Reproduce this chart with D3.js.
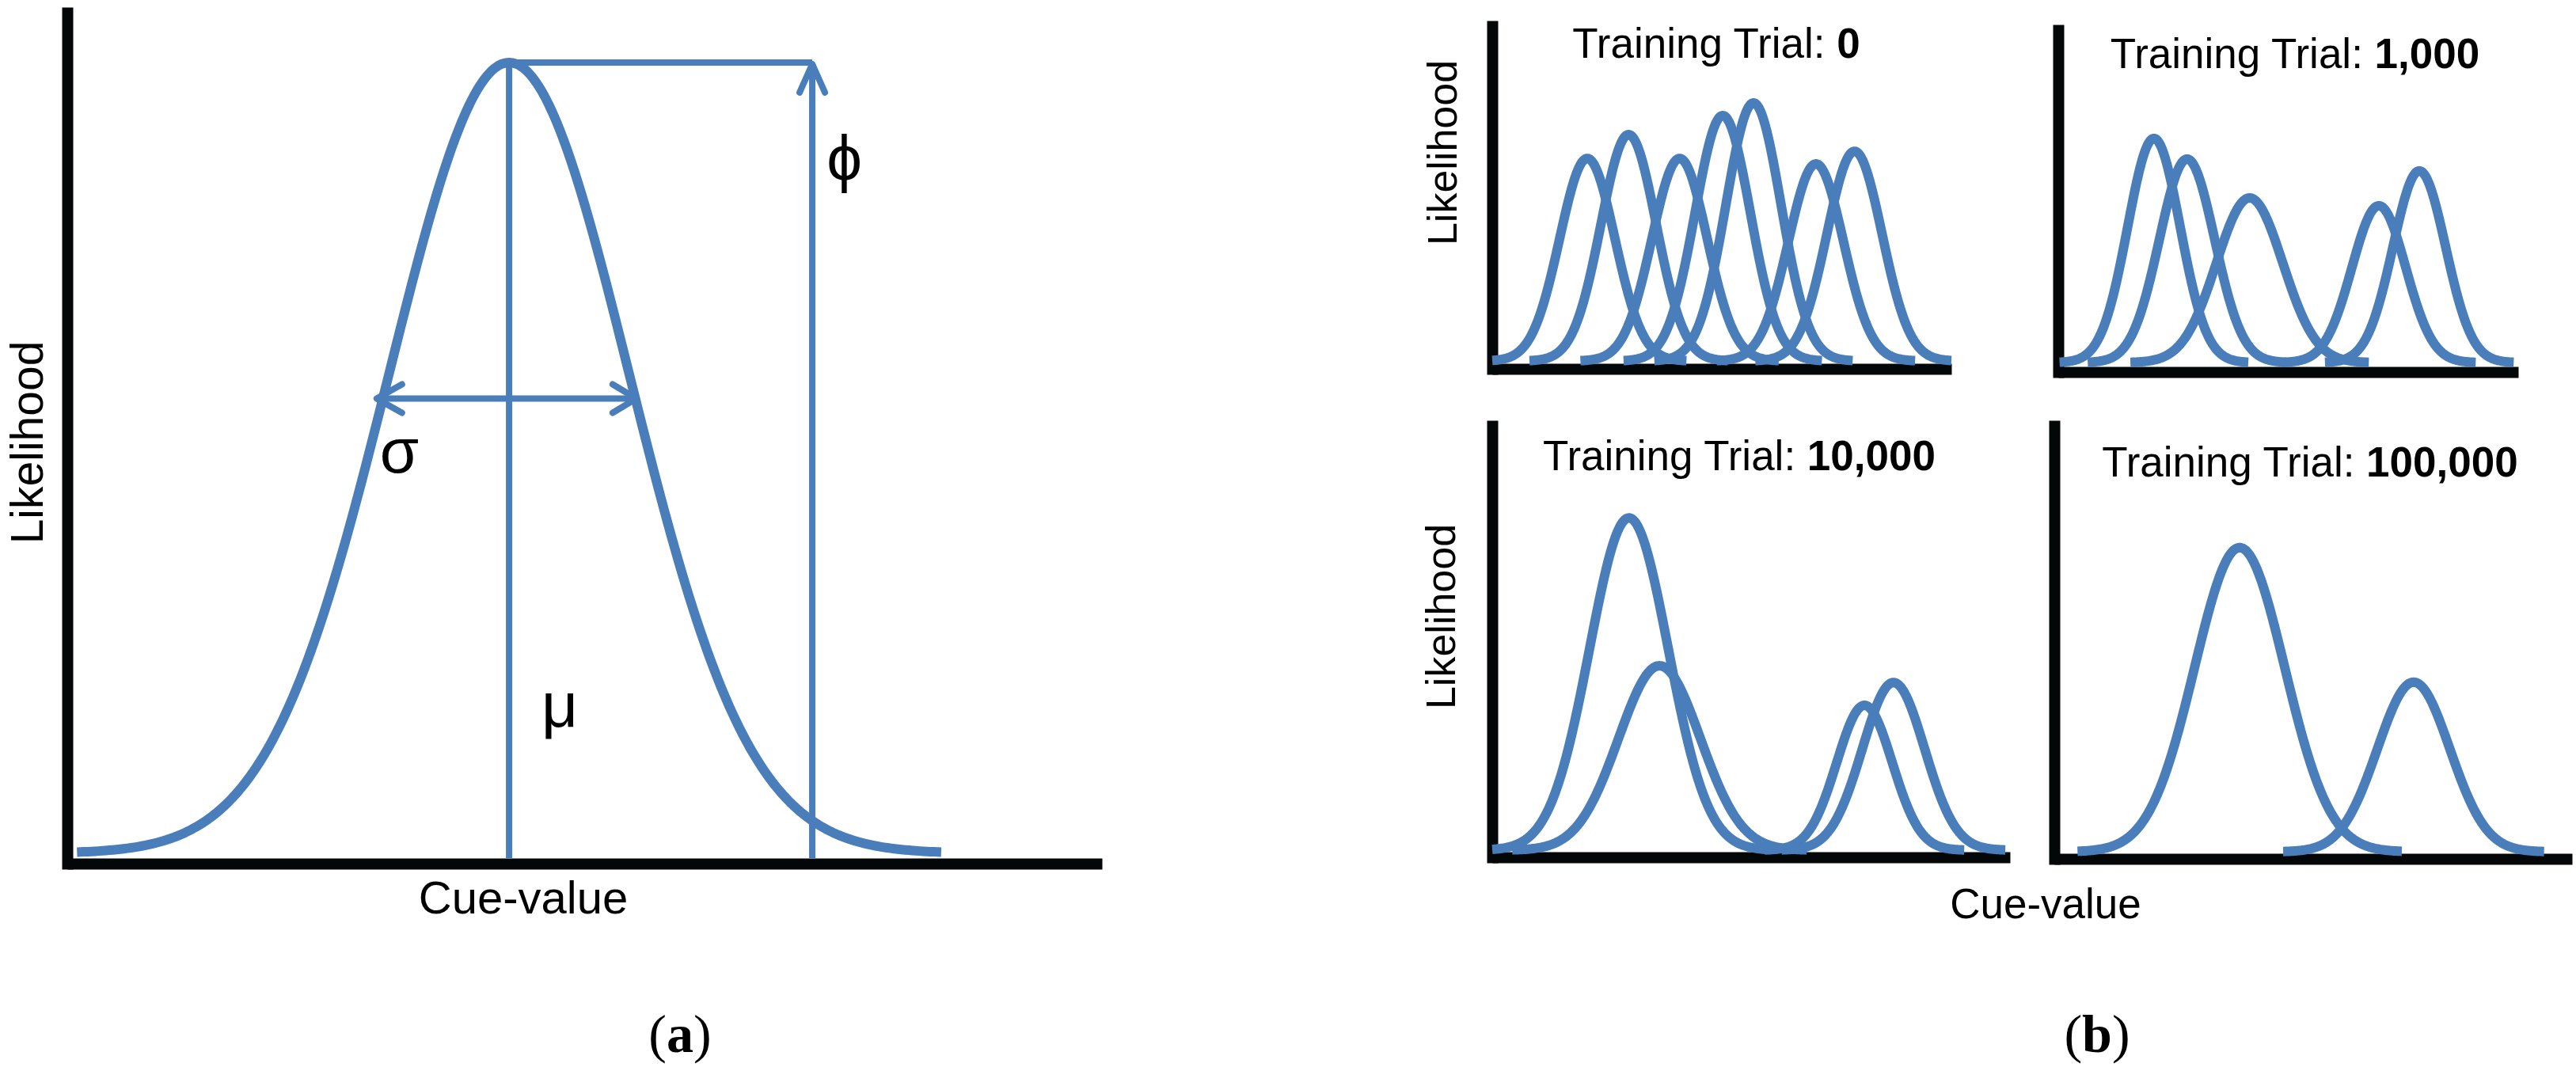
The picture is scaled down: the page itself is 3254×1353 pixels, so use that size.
<!DOCTYPE html>
<html><head><meta charset="utf-8">
<script src="https://cdn.jsdelivr.net/npm/d3@7"></script>
<style>body{margin:0;background:#fff;} svg{display:block;background:#fff}</style>
</head><body>
<svg id="chart" width="3254" height="1353"></svg>
<script>
// ---------- DATA ----------
// Panel (a): single Gaussian with parameters mu, sigma, phi
const aMu = 42.7;
const aSigma = 11.6;
const aPhi = 1.0;
const aSigmaLevel = 0.575;          // height of the sigma arrow
const aSigmaArrow = [29.9, 55.0];   // x-extent of the sigma arrow
const aPhiArrowX = 72.0;            // x of the phi arrow
const aSymbols = ["σ", "μ", "ϕ"];
const aSymbolX = [32.1, 47.6, 75.1];
const aSymbolY = [0.481, 0.160, 0.852];

// Panel (b): four training stages
const trialLabels = ["0", "1,000", "10,000", "100,000"];
const means0   = [20.7, 29.7, 40.8, 50.2, 56.9, 70.5, 78.9];
const sigmas0  = [6.0, 6.0, 6.0, 6.0, 6.0, 6.0, 6.0];
const heights0 = [0.595, 0.665, 0.595, 0.721, 0.758, 0.579, 0.616];
const means1   = [20.8, 28.0, 41.6, 69.7, 78.5];
const sigmas1  = [5.7, 6.0, 7.2, 5.85, 5.7];
const heights1 = [0.663, 0.602, 0.487, 0.464, 0.567];
const means2   = [26.4, 32.3, 71.9, 77.5];
const sigmas2  = [7.6, 7.9, 5.35, 6.0];
const heights2 = [0.773, 0.429, 0.337, 0.390];
const means3   = [35.8, 69.4];
const sigmas3  = [8.7, 7.0];
const heights3 = [0.705, 0.393];

const axisLabelX = "Cue-value";
const axisLabelY = "Likelihood";

// ---------- STYLE / LAYOUT ----------
const BLUE = "#4a7ebb";
const BLACK = "#040707";
const SANS = "'Liberation Sans', Arial, sans-serif";
const SERIF = "'Liberation Serif', 'Times New Roman', serif";

const svg = d3.select("#chart");

function gaussPoints(mu, sigma, h, span) {
  const lo = Math.max(0, mu - span * sigma), hi = Math.min(100, mu + span * sigma);
  const n = 240;
  return d3.range(n + 1).map(i => {
    const x = lo + (hi - lo) * i / n;
    return [x, h * Math.exp(-((x - mu) ** 2) / (2 * sigma * sigma))];
  });
}

function drawAxes(g, xs, axisTop, xAxisY, axisW) {
  const xAx = d3.axisBottom(xs).tickValues([]).tickSizeOuter(0);
  g.append("g").attr("transform", `translate(0,${xAxisY})`).call(xAx)
    .select(".domain").attr("stroke", BLACK).attr("stroke-width", axisW).attr("stroke-linecap", "butt");
  const yAxScale = d3.scaleLinear().domain([0, 1]).range([xAxisY + axisW / 2, axisTop]);
  const yAx = d3.axisLeft(yAxScale).tickValues([]).tickSizeOuter(0);
  g.append("g").attr("transform", `translate(${xs(0)},0)`).call(yAx)
    .select(".domain").attr("stroke", BLACK).attr("stroke-width", axisW).attr("stroke-linecap", "butt");
}

// ---------- PANEL (a) ----------
{
  const g = svg.append("g");
  const xa = d3.scaleLinear().domain([0, 100]).range([85, 1392]);
  const ya = d3.scaleLinear().domain([0, 1.07]).range([1078, 9]);
  drawAxes(g, xa, 9, 1091, 14);

  const line = d3.line().x(d => xa(d[0])).y(d => ya(d[1])).curve(d3.curveLinear);
  const thin = 8;

  // mu line
  g.append("line").attr("x1", xa(aMu)).attr("x2", xa(aMu))
    .attr("y1", ya(0) + 6).attr("y2", ya(aPhi))
    .attr("stroke", BLUE).attr("stroke-width", thin);
  // phi horizontal
  g.append("line").attr("x1", xa(aMu)).attr("x2", xa(aPhiArrowX))
    .attr("y1", ya(aPhi)).attr("y2", ya(aPhi))
    .attr("stroke", BLUE).attr("stroke-width", thin);
  // phi vertical arrow
  const px = xa(aPhiArrowX), ptip = ya(aPhi) + 2;
  g.append("line").attr("x1", px).attr("x2", px).attr("y1", ya(0) + 6).attr("y2", ptip)
    .attr("stroke", BLUE).attr("stroke-width", thin);
  g.append("path").attr("d", `M${px - 16},${ptip + 36}L${px},${ptip}L${px + 16},${ptip + 36}`)
    .attr("fill", "none").attr("stroke", BLUE).attr("stroke-width", thin)
    .attr("stroke-linecap", "round").attr("stroke-linejoin", "round");

  // sigma arrow
  const sl = xa(aSigmaArrow[0]), sr = xa(aSigmaArrow[1]), sy = ya(aSigmaLevel);
  g.append("line").attr("x1", sl).attr("x2", sr).attr("y1", sy).attr("y2", sy)
    .attr("stroke", BLUE).attr("stroke-width", thin);
  g.append("path").attr("d", `M${sl + 32},${sy - 18}L${sl},${sy}L${sl + 32},${sy + 18}`)
    .attr("fill", "none").attr("stroke", BLUE).attr("stroke-width", thin)
    .attr("stroke-linecap", "round").attr("stroke-linejoin", "round");
  g.append("path").attr("d", `M${sr - 30},${sy - 18}L${sr},${sy}L${sr - 30},${sy + 18}`)
    .attr("fill", "none").attr("stroke", BLUE).attr("stroke-width", thin)
    .attr("stroke-linecap", "round").attr("stroke-linejoin", "round");

  // Gaussian curve
  g.append("path").datum(gaussPoints(aMu, aSigma, aPhi, 3.6))
    .attr("d", line).attr("fill", "none").attr("stroke", BLUE)
    .attr("stroke-width", 12).attr("stroke-linejoin", "round");

  // symbols
  aSymbols.forEach((s, i) => {
    g.append("text").attr("x", xa(aSymbolX[i])).attr("y", ya(aSymbolY[i]))
      .attr("text-anchor", "middle").attr("font-family", SANS).attr("font-size", 80)
      .attr("fill", "#000").text(s);
  });

  g.append("text").attr("transform", "translate(54,559) rotate(-90)")
    .attr("text-anchor", "middle").attr("font-family", SANS).attr("font-size", 57).text(axisLabelY);
  g.append("text").attr("x", 661).attr("y", 1154)
    .attr("text-anchor", "middle").attr("font-family", SANS).attr("font-size", 58).text(axisLabelX);
  const la = g.append("text").attr("x", 859).attr("y", 1329).attr("text-anchor", "middle")
    .attr("font-family", SERIF).attr("font-size", 68);
  la.append("tspan").text("(");
  la.append("tspan").attr("font-weight", "bold").text("a");
  la.append("tspan").text(")");
}

// ---------- PANEL (b) ----------
const subPanels = [
  { means: means0, sigmas: sigmas0, heights: heights0, x0: 1885, x1: 2465, top: 26, xAxisY: 466, base: 456, tx: 2168, ty: 73 },
  { means: means1, sigmas: sigmas1, heights: heights1, x0: 2600, x1: 3181, top: 31, xAxisY: 470, base: 458, tx: 2899, ty: 86 },
  { means: means2, sigmas: sigmas2, heights: heights2, x0: 1885, x1: 2539, top: 531, xAxisY: 1083, base: 1074, tx: 2197, ty: 594 },
  { means: means3, sigmas: sigmas3, heights: heights3, x0: 2595, x1: 3249, top: 531, xAxisY: 1085, base: 1076, tx: 2918, ty: 602 }
];
const panelH = [430, 427, 543, 545];

subPanels.forEach((p, k) => {
  const g = svg.append("g");
  const xs = d3.scaleLinear().domain([0, 100]).range([p.x0, p.x1]);
  const ys = d3.scaleLinear().domain([0, 1]).range([p.base, p.base - panelH[k]]);
  drawAxes(g, xs, p.top, p.xAxisY, 14);
  const line = d3.line().x(d => xs(d[0])).y(d => ys(d[1]));
  p.means.forEach((m, i) => {
    g.append("path").datum(gaussPoints(m, p.sigmas[i], p.heights[i], 3.6))
      .attr("d", line).attr("fill", "none").attr("stroke", BLUE)
      .attr("stroke-width", 12).attr("stroke-linejoin", "round");
  });
  const t = g.append("text").attr("x", p.tx).attr("y", p.ty).attr("text-anchor", "middle")
    .attr("font-family", SANS).attr("font-size", 53).attr("fill", "#000");
  t.append("tspan").text("Training Trial: ");
  t.append("tspan").attr("font-weight", "bold").text(trialLabels[k]);
});

svg.append("text").attr("transform", "translate(1840,193) rotate(-90)")
  .attr("text-anchor", "middle").attr("font-family", SANS).attr("font-size", 52).text(axisLabelY);
svg.append("text").attr("transform", "translate(1838,779) rotate(-90)")
  .attr("text-anchor", "middle").attr("font-family", SANS).attr("font-size", 52).text(axisLabelY);
svg.append("text").attr("x", 2584).attr("y", 1160)
  .attr("text-anchor", "middle").attr("font-family", SANS).attr("font-size", 53).text(axisLabelX);
const lb = svg.append("text").attr("x", 2649).attr("y", 1329).attr("text-anchor", "middle")
  .attr("font-family", SERIF).attr("font-size", 68);
lb.append("tspan").text("(");
lb.append("tspan").attr("font-weight", "bold").text("b");
lb.append("tspan").text(")");
</script>
</body></html>
